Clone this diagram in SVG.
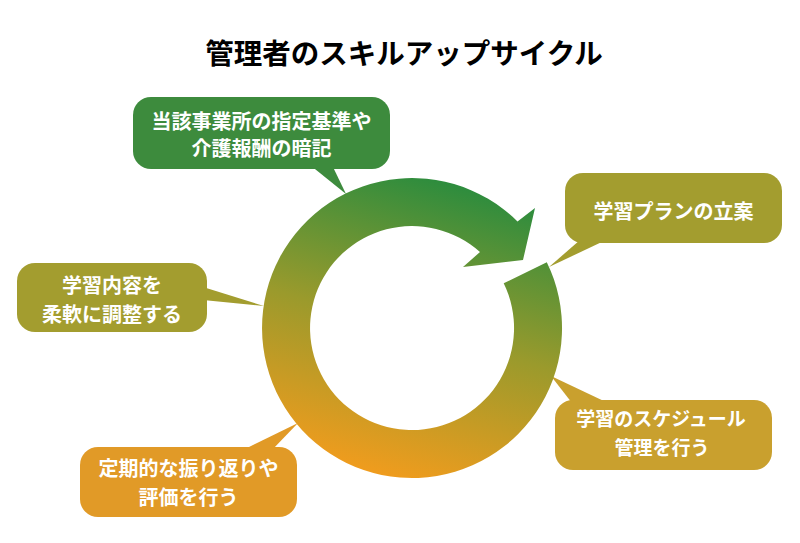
<svg xmlns="http://www.w3.org/2000/svg" width="800" height="543" viewBox="0 0 800 543">
<defs>
<linearGradient id="ringGrad" gradientUnits="userSpaceOnUse" x1="455" y1="180" x2="370" y2="478">
<stop offset="0" stop-color="#2a8c3e"/>
<stop offset="0.5" stop-color="#9a9a2c"/>
<stop offset="1" stop-color="#f39c1d"/>
</linearGradient>
<style>
.lbl{font-family:"Noto Sans CJK JP","Noto Sans",sans-serif;font-weight:bold;font-size:20px;fill:#ffffff;text-anchor:middle}
.sm{font-size:19px}
.title{font-family:"Noto Sans CJK JP","Noto Sans",sans-serif;font-weight:bold;font-size:28.5px;fill:#000000;text-anchor:middle}
.green{fill:#3d8b3d}
.olive{fill:#a39d2f}
.orange{fill:#e19a27}
.gold{fill:#c9a02e}
</style>
</defs>
<rect width="800" height="543" fill="#ffffff"/>
<text class="title" x="404" y="64">管理者のスキルアップサイクル</text>
<g id="connectors">
<polygon class="green" points="310,165 332,165 346,194"/>
<polygon class="olive" points="580,240 606,240 549,267"/>
<polygon class="olive" points="203,287 203,300 264,306"/>
<polygon class="orange" points="243,450 272,450 298,423"/>
<polygon class="gold" points="572,403 608,403 551,376"/>
</g>
<g id="cycle">
<path fill="url(#ringGrad)" d="M 546.8,262.2 A 150 150 0 1 1 517.5,221.4 L 535,208 L 523,260 L 463,267 L 480,252 A 102 102 0 1 0 503.7,283.3 Z"/>
</g>
<g id="node-memorize">
<rect class="green" x="133" y="97" width="257" height="72" rx="18"/>
<text class="lbl" x="261.5" y="129">当該事業所の指定基準や</text>
<text class="lbl" x="261.5" y="156">介護報酬の暗記</text>
</g>
<g id="node-plan">
<rect class="olive" x="565" y="173" width="217" height="70" rx="18"/>
<text class="lbl" x="673.5" y="218.5">学習プランの立案</text>
</g>
<g id="node-adjust">
<rect class="olive" x="17" y="263" width="190" height="69" rx="18"/>
<text class="lbl" x="112" y="293">学習内容を</text>
<text class="lbl" x="112" y="321.5">柔軟に調整する</text>
</g>
<g id="node-review">
<rect class="orange" x="80" y="447" width="217" height="70" rx="18"/>
<text class="lbl" x="188.5" y="476">定期的な振り返りや</text>
<text class="lbl" x="188.5" y="505">評価を行う</text>
</g>
<g id="node-schedule">
<rect class="gold" x="555" y="400" width="217" height="70" rx="18"/>
<text class="lbl sm" x="661" y="426">学習のスケジュール</text>
<text class="lbl sm" x="662" y="455">管理を行う</text>
</g>
</svg>
